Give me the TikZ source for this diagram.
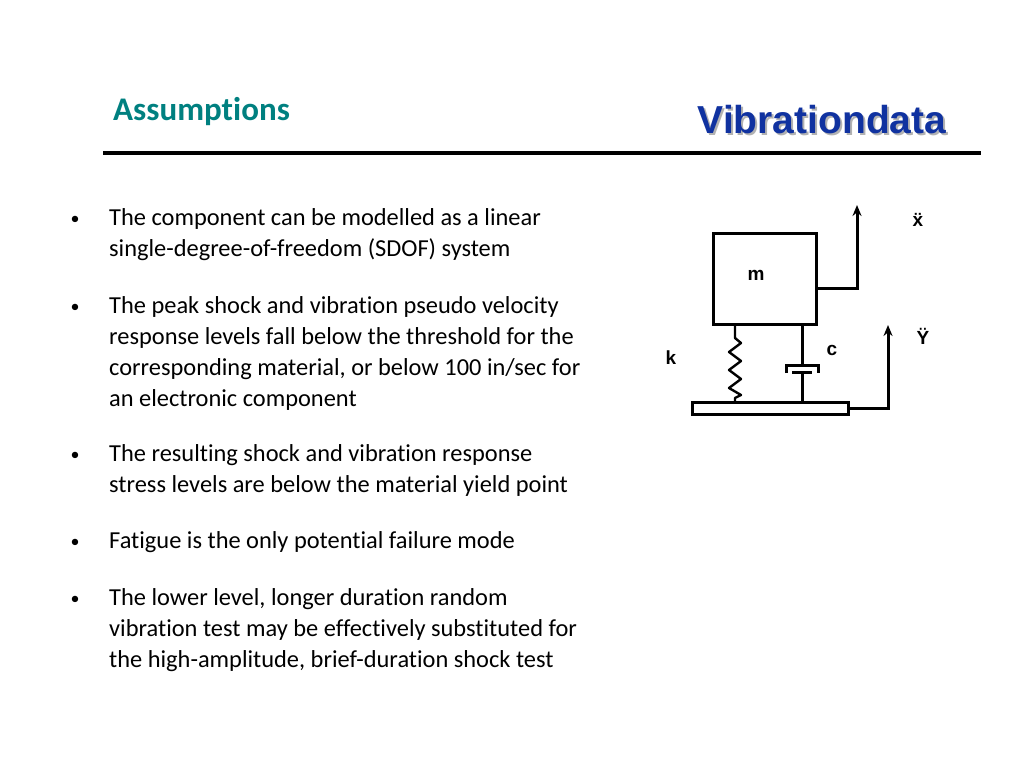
\documentclass[tikz,border=0pt]{standalone}
\usetikzlibrary{arrows.meta}
\usepackage{fontspec}
\setmainfont{Carlito}[Ligatures=NoCommon]
\newfontfamily\arialfont{Liberation Sans}
\begin{document}
\begin{tikzpicture}[x=1pt,y=-1pt,
  body/.style={anchor=base west,inner sep=0,font=\fontsize{24.4}{31}\selectfont},
  lab/.style={inner sep=0,font=\arialfont\bfseries\fontsize{19}{19}\selectfont},
  ln/.style={line width=3pt},
  arr/.style={line width=3pt,-{Stealth[length=11pt,width=9pt]}}]
\useasboundingbox (0,0) rectangle (1024,768);
\definecolor{teal1}{RGB}{0,128,128}
\definecolor{vblue}{RGB}{16,50,160}
\node[anchor=west,inner sep=0,text=teal1,font=\bfseries\fontsize{33}{33}\selectfont] (title) at (113,112) {Assumptions};
\node[inner sep=0,text=gray!60,font=\arialfont\bfseries\fontsize{39}{39}\selectfont] at (824,122) {Vibrationdata};
\node[inner sep=0,text=vblue,font=\arialfont\bfseries\fontsize{39}{39}\selectfont] (logo) at (822,120) {Vibrationdata};
\draw[line width=4.5pt] (103,153) coordinate (r1) -- (981,153) coordinate (r2);
\foreach \y in {224,312,460,547,604} \node[anchor=base,inner sep=0,font=\fontsize{18}{18}\selectfont] at (75,\y) {•};
\node[body] at (109,225) {The component can be modelled as a linear};
\node[body] at (109,256) {single-degree-of-freedom (SDOF) system};
\node[body] at (109,313) {The peak shock and vibration pseudo velocity};
\node[body] at (109,344) {response levels fall below the threshold for the};
\node[body] at (109,375) {corresponding material, or below 100 in/sec for};
\node[body] at (109,406) {an electronic component};
\node[body] at (109,461) {The resulting shock and vibration response};
\node[body] at (109,492) {stress levels are below the material yield point};
\node[body] at (109,548) {Fatigue is the only potential failure mode};
\node[body] at (109,605) {The lower level, longer duration random};
\node[body] at (109,636) {vibration test may be effectively substituted for};
\node[body] at (109,667) {the high-amplitude, brief-duration shock test};
% SDOF
\draw[ln] (713,233) rectangle (816,324);
\node[lab] (m) at (756,275) {m};
\draw[ln] (692,402) rectangle (848,414);
\draw[arr] (816,288) -| (857,205);
\draw[arr] (848,408) -| (888,325);
\node[lab] (xdd) at (918,220) {\"x};
\node[lab] (ydd) at (923,336) {\"Y};
\node[lab] (k) at (671,358) {k};
\node[lab] (c) at (832,350) {c};
\draw[line width=2.4pt,line join=round] (735,324) -- (735,338) -- (741,343) -- (729,352) -- (741,361) -- (729,370) -- (741,379) -- (729,388) -- (741,395) -- (735,398) -- (735,402);
\draw[ln] (802,324) -- (802,365);
\draw[ln] (786,373) -- (786,365) -- (818,365) -- (818,373);
\draw[ln] (792,372) -- (812,372);
\draw[ln] (802,372) -- (802,402);
\end{tikzpicture}
\end{document}
